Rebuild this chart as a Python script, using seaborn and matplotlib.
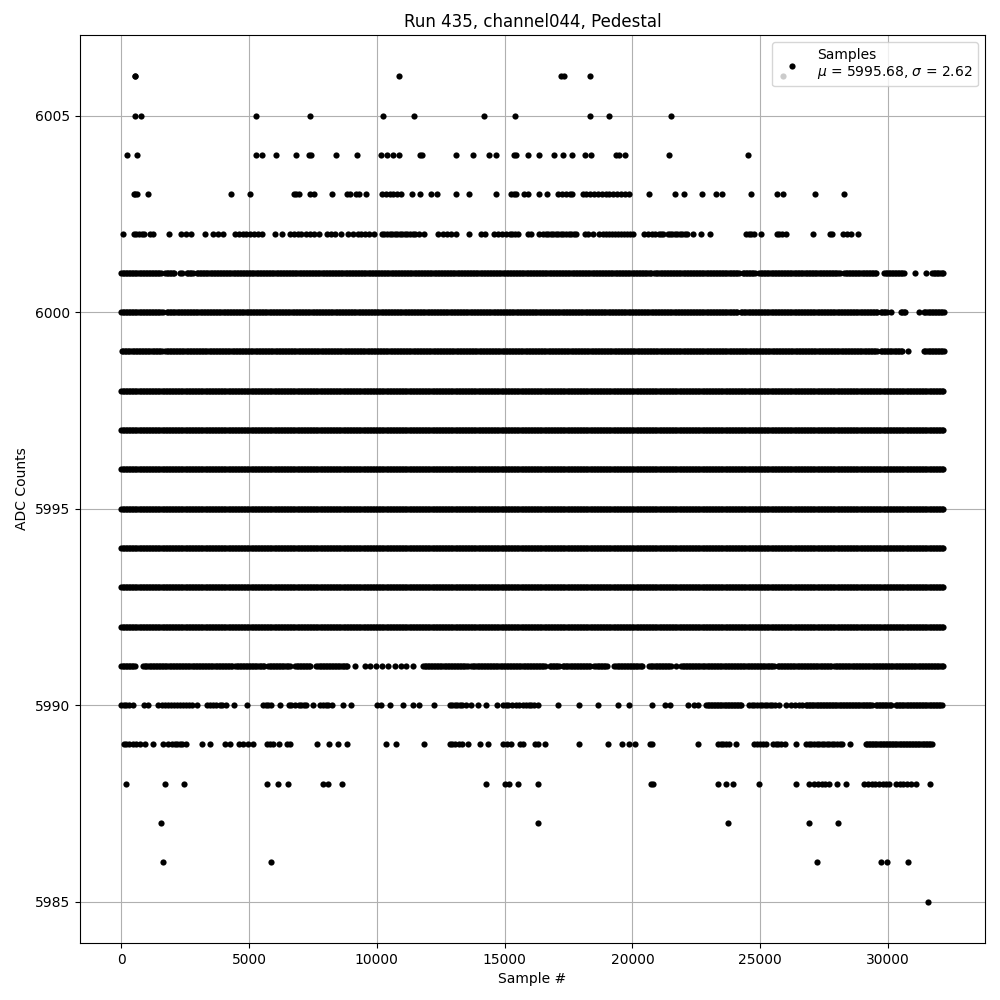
import numpy as np
import pandas as pd
import matplotlib
matplotlib.use('Agg')
import matplotlib.pyplot as plt
import seaborn as sns

# isolated samples (sample #), per ADC level
pts_6006 = [530, 560, 10870, 17210, 17340, 18320, 25870]
pts_6005 = [547, 793, 5285, 7383, 10246, 11454, 14190, 15390, 18358, 19100, 21500]
pts_6004 = [246, 613, 5285, 5494, 6066, 6847, 7330, 7430, 8410, 9230, 10180, 10380, 10640,
            10870, 11680, 11750, 13097, 13761, 14386, 14647, 15350, 15430, 15910, 16340,
            16913, 17278, 17630, 18124, 18385, 19361, 19491, 19725, 21440, 24503]
pts_6003 = [500, 560, 640, 1042, 4310, 5052, 6750, 6850, 6950, 7383, 7539, 8254, 8815, 8945,
            9179, 9296, 9596, 10200, 10350, 10500, 10650, 10800, 10950, 11375, 11705, 12135,
            12354, 13097, 13604, 14647, 15250, 15350, 15450, 15750, 15900, 16340, 16652,
            17100, 17250, 17400, 17550, 17650, 18050, 18200, 18350, 18500, 18650, 18800,
            18950, 19100, 19250, 19400, 19550, 19700, 19850, 20635, 21652, 22030, 22707,
            23268, 23487, 24620, 25650, 25885, 27147, 28292]
pts_6002 = [91, 500, 600, 700, 800, 900, 1133, 1238, 1888, 2343, 2539, 2746, 3294, 3607, 3802,
            3971, 4450, 4600, 4750, 4900, 5050, 5200, 5350, 5500, 6015, 6275, 6600, 6750,
            6900, 7050, 7250, 7400, 7550, 7750, 8050, 8200, 8350, 8600, 8880, 9050, 9250,
            9400, 9550, 9700, 9900, 10200, 10300, 10400, 10500, 10600, 10700, 10800, 10900,
            11000, 11100, 11200, 11300, 11400, 11500, 11650, 11848, 12395, 12600, 12750,
            12900, 13100, 13604, 14086, 14217, 14600, 14750, 14900, 15050, 15200, 15300,
            15400, 15520, 15910, 16040, 16340, 16500, 16600, 16700, 16800, 16900, 17000,
            17100, 17200, 17300, 17400, 17500, 17600, 17700, 17800, 18124, 18250, 18450,
            18710, 18830, 18950, 19070, 19190, 19310, 19430, 19550, 19670, 19790, 19910,
            20010, 20470, 20600, 20750, 20900, 21050, 21118, 21180, 21378, 21450, 21550,
            21650, 21750, 21850, 21950, 22050, 22150, 22350, 22668, 23020, 24450, 24550,
            24650, 24760, 25038, 25650, 25750, 25850, 26000, 27069, 27733, 27799, 28250,
            28400, 28540, 28826]
pts_6001 = [31052, 31470]
pts_6000 = [30100, 31210]
pts_5999 = [30790]
pts_5991 = [9140, 9530, 9750, 9985, 10220, 10440, 10700, 10960, 11160, 11414, 21704]
pts_5990 = [0, 100, 200, 300, 450, 880, 1060, 1460, 1580, 1700, 1820, 1940, 2060, 2180, 2300,
            2420, 2540, 2660, 2780, 2950, 3350, 3480, 3600, 3720, 3850, 3950, 4100, 4400,
            4909, 5560, 5650, 5750, 5850, 6200, 6550, 6650, 6800, 6950, 7050, 7150, 7250,
            7500, 7770, 7900, 8000, 8100, 8230, 8684, 9009, 10000, 10150, 10500, 11027,
            11414, 11648, 12238, 12850, 12950, 13050, 13150, 13250, 13350, 13500, 13700,
            13957, 14284, 14699, 14950, 15050, 15150, 15300, 15450, 15550, 15700, 15850,
            15950, 16050, 16150, 16300, 17083, 17903, 18658, 19426, 19881, 20752, 21260,
            21450, 22160, 22420, 22550, 24570, 24670, 24770, 24870, 24970, 25070, 25170,
            25270, 25370, 25470, 25570, 25740, 26003, 26200, 26350, 26500, 26650]
pts_5989 = [100, 200, 300, 450, 600, 750, 930, 1263, 1650, 1840, 2000, 2100, 2200, 2300, 2400,
            2550, 3176, 3476, 4070, 4250, 4620, 4780, 4950, 5170, 5690, 5820, 5950, 6183,
            6470, 6600, 7669, 8137, 8489, 8840, 10350, 10741, 11848, 12850, 12950, 13050,
            13200, 13350, 13550, 14023, 14347, 14950, 15100, 15250, 15585, 15715, 16170,
            16300, 16560, 17903, 19035, 19582, 19881, 20115, 20700, 20780, 22550, 23330,
            23450, 23550, 23650, 23780, 24046, 24770, 24880, 25000, 25100, 25220, 25480,
            25600, 25700, 25820, 25950, 26400, 26783, 26900, 27000, 27100, 27200, 27300,
            27400, 27500, 27600, 27700, 27800, 27900, 28000, 28100, 28213, 28514]
pts_5988 = [195, 1730, 2473, 5715, 6145, 6535, 7877, 8073, 8645, 14257, 15000, 15190, 15520,
            16300, 20740, 20790, 23330, 23656, 23942, 24959, 26392, 26887, 27110, 27250,
            27400, 27550, 27690, 28018, 28370, 29060, 29200, 29350, 29500, 29650, 29800,
            29900, 30030, 30300, 30450, 30600, 30750, 30900, 31080, 31638]
pts_5987 = [1562, 16300, 23721, 26887, 28057]
pts_5986 = [1652, 5871, 27237, 29737, 29971, 30792]
pts_5985 = [31572]

# sample ranges where a level is hit so often the dots merge into a band
full_run = [(0, 32186)]
runs_6001 = [(0, 1590), (1718, 2109), (2304, 2420), (2560, 2825), (2957, 19881),
             (19947, 20728), (20857, 24178), (24307, 24828), (24959, 26652),
             (26718, 28150), (28280, 29580), (29840, 30620), (31730, 32186)]
runs_6000 = [(0, 1652), (1785, 22487), (22538, 24100), (24240, 29580), (29710, 29970),
             (30490, 30690), (31400, 32186)]
runs_5999 = [(27, 1590), (1718, 29580), (29710, 30555), (31400, 32186)]
runs_5991 = [(0, 547), (872, 4387), (4453, 5600), (5750, 6600), (6800, 7450), (7640, 8880),
             (11808, 13565), (13700, 16627), (16757, 17148), (17278, 18385), (18515, 19035),
             (19296, 20402), (20662, 21509), (21900, 22877), (22942, 25546), (25676, 27824),
             (27889, 32186)]
runs_5990 = [(22880, 24307), (26780, 29385), (29515, 30167), (30300, 32120)]
runs_5989 = [(29125, 31730)]

levels = {
    6006: (pts_6006, []), 6005: (pts_6005, []), 6004: (pts_6004, []),
    6003: (pts_6003, []), 6002: (pts_6002, []), 6001: (pts_6001, runs_6001),
    6000: (pts_6000, runs_6000), 5999: (pts_5999, runs_5999),
    5998: ([], full_run), 5997: ([], full_run), 5996: ([], full_run),
    5995: ([], full_run), 5994: ([], full_run), 5993: ([], full_run),
    5992: ([], full_run), 5991: (pts_5991, runs_5991), 5990: (pts_5990, runs_5990),
    5989: (pts_5989, runs_5989), 5988: (pts_5988, []), 5987: (pts_5987, []),
    5986: (pts_5986, []), 5985: (pts_5985, []),
}

xs, ys = [], []
for adc, (pts, runs) in levels.items():
    samples = list(pts)
    for a, b in runs:
        samples += list(np.arange(a, b + 1, 60))
    xs += samples
    ys += [adc] * len(samples)
df = pd.DataFrame({'sample': xs, 'adc': ys})

fig, ax = plt.subplots(figsize=(10, 10), dpi=100)
sns.scatterplot(data=df, x='sample', y='adc', color='black', s=20, linewidth=0,
                zorder=3, ax=ax, label='Samples\n$\\mu$ = 5995.68, $\\sigma$ = 2.62')
ax.grid(True)
ax.set_yticks([5985, 5990, 5995, 6000, 6005])
ax.set_title('Run 435, channel044, Pedestal')
ax.set_xlabel('Sample #')
ax.set_ylabel('ADC Counts')
ax.legend(loc='upper right')
fig.subplots_adjust(left=0.08, right=0.985, top=0.965, bottom=0.057)
fig.savefig('out.png', dpi=100)
